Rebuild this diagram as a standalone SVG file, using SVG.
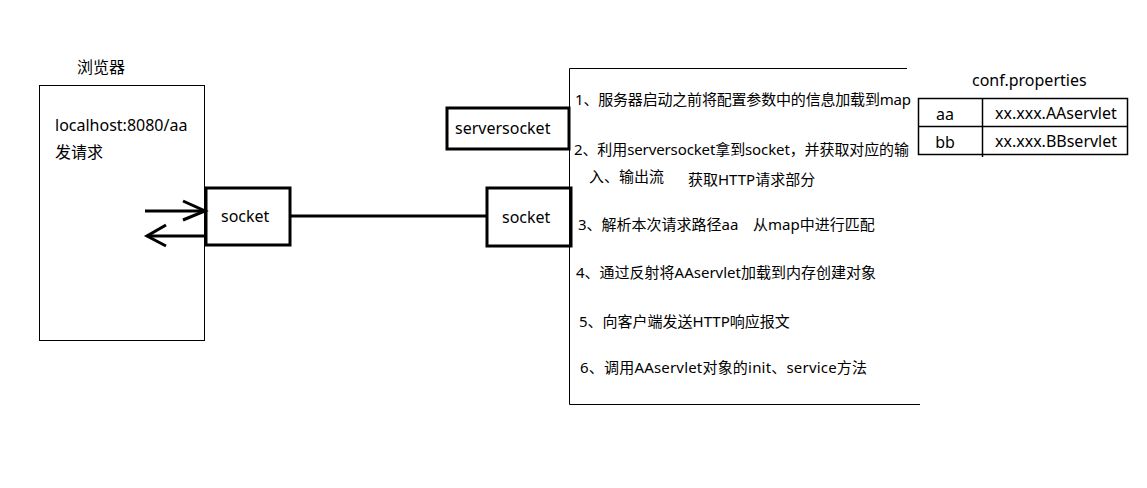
<svg xmlns="http://www.w3.org/2000/svg" width="1147" height="488" viewBox="0 0 1147 488">
<style>
text{font-family:"Noto Sans","Noto Sans CJK SC",sans-serif;fill:#000;}
.t{font-size:15px;}
.n{font-size:16px;}
.thin{fill:none;stroke:#000;stroke-width:1;}
.thick{fill:none;stroke:#000;stroke-width:3;}
</style>
<rect width="1147" height="488" fill="#fff"/>
<g id="browser">
<text class="n" x="77" y="73">浏览器</text>
<rect class="thin" x="39.5" y="85.5" width="165" height="255"/>
<text class="n" x="55" y="131">localhost:8080/aa</text>
<text class="n" x="55" y="158">发请求</text>
</g>
<g id="socket-left">
<rect class="thick" x="206" y="188" width="84" height="57"/>
<text class="n" x="221" y="222">socket</text>
</g>
<g id="serversocket">
<rect class="thick" x="447" y="108" width="122" height="41"/>
<text class="n" x="455" y="134">serversocket</text>
</g>
<g id="socket-right">
<rect class="thick" x="487" y="188" width="84" height="58"/>
<text class="n" x="502" y="223">socket</text>
</g>
<g id="server">
<polyline class="thin" points="907,68.5 569.5,68.5 569.5,404.5 920,404.5"/>
<text class="t" x="575" y="105" textLength="336">1、服务器启动之前将配置参数中的信息加载到map</text>
<text class="t" x="574" y="155" textLength="335">2、利用serversocket拿到socket，并获取对应的输</text>
<text class="t" x="589" y="182">入、输出流</text>
<text class="t" x="688" y="185">获取HTTP请求部分</text>
<text class="t" x="578" y="230">3、解析本次请求路径aa</text>
<text class="t" x="753" y="230">从map中进行匹配</text>
<text class="t" x="576" y="278">4、通过反射将AAservlet加载到内存创建对象</text>
<text class="t" x="579" y="327">5、向客户端发送HTTP响应报文</text>
<text class="t" x="580" y="373" textLength="287">6、调用AAservlet对象的init、service方法</text>
</g>
<g id="conf">
<text class="n" x="972" y="86">conf.properties</text>
<rect class="thin" x="918.5" y="98.5" width="209" height="56" style="stroke-width:1.5"/>
<line class="thin" x1="918.5" y1="126.5" x2="1127.5" y2="126.5" style="stroke-width:1.5"/>
<line class="thin" x1="982.5" y1="98.5" x2="982.5" y2="157" style="stroke-width:1.5"/>
<text class="n" x="945" y="120" text-anchor="middle">aa</text>
<text class="n" x="945" y="148" text-anchor="middle">bb</text>
<text class="n" x="995" y="119">xx.xxx.AAservlet</text>
<text class="n" x="995" y="147">xx.xxx.BBservlet</text>
</g>
<g id="connectors">
<line class="thick" x1="290" y1="216" x2="487" y2="216"/>
<line class="thick" x1="145" y1="211" x2="205" y2="211"/>
<polyline class="thick" points="183,201 205,211 183,220"/>
<line class="thick" x1="205" y1="236" x2="147" y2="236"/>
<polyline class="thick" points="166,225 147,236 166,246"/>
</g>
</svg>
